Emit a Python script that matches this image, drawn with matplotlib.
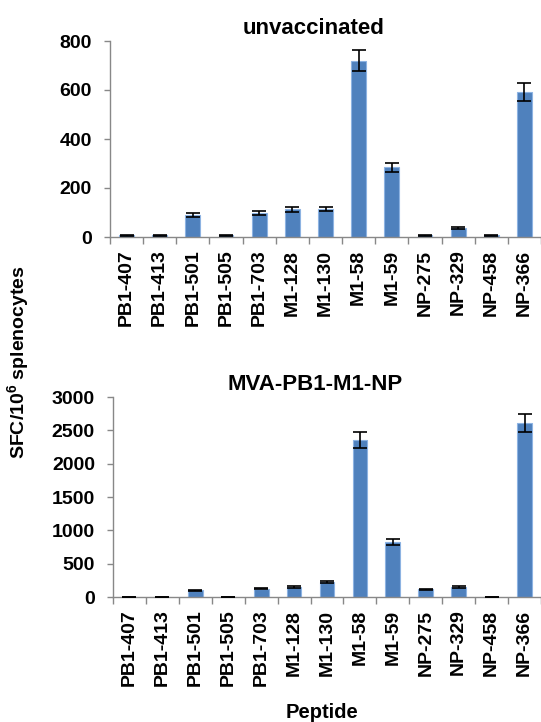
import matplotlib
matplotlib.use("Agg")
import matplotlib.pyplot as plt
import numpy as np

peptides = ["PB1-407", "PB1-413", "PB1-501", "PB1-505", "PB1-703", "M1-128", "M1-130",
            "M1-58", "M1-59", "NP-275", "NP-329", "NP-458", "NP-366"]
unvacc_vals = [8, 8, 89, 8, 98, 113, 115, 720, 284, 7, 38, 7, 593]
unvacc_err = [2, 2, 8, 2, 7, 10, 8, 44, 18, 2, 4, 2, 36]
mva_vals = [3, 3, 100, 3, 125, 150, 225, 2360, 830, 115, 145, 3, 2610]
mva_err = [2, 2, 12, 2, 12, 15, 15, 120, 45, 12, 15, 2, 140]

titles = ["unvaccinated", "MVA-PB1-M1-NP"]
yticks_top = [0, 200, 400, 600, 800]
yticks_bot = [0, 500, 1000, 1500, 2000, 2500, 3000]

plt.rcParams['font.family'] = ['Liberation Sans', 'DejaVu Sans']
plt.rcParams['font.weight'] = 'bold'
plt.rcParams['mathtext.fontset'] = 'custom'
plt.rcParams['mathtext.bf'] = 'Liberation Sans:bold'
plt.rcParams['mathtext.rm'] = 'Liberation Sans'

W, H = 541, 722
fig = plt.figure(figsize=(W / 100, H / 100), dpi=100)

bar_color = "#4F81BD"
edge_color = "#8DB3E2"
spine_color = "#888888"


def make_ax(rect, vals, errs, title, yticks, title_x):
    ax = fig.add_axes(rect)
    x = np.arange(len(peptides))
    ax.bar(x, vals, width=0.45, color=bar_color, edgecolor=edge_color, linewidth=0.8, zorder=2)
    ax.errorbar(x, vals, yerr=errs, fmt="none", ecolor="black", elinewidth=1.2,
                capsize=5, capthick=1.2, zorder=3)
    ax.set_xlim(-0.5, len(peptides) - 0.5)
    ax.set_ylim(yticks[0], yticks[-1])
    ax.set_yticks(yticks)
    ax.set_yticklabels([str(t) for t in yticks], fontsize=14, fontweight='bold')
    ax.set_xticks(x)
    ax.set_xticklabels(peptides, rotation=90, fontsize=14, fontweight='bold')
    ax.set_xticks(np.arange(len(peptides) + 1) - 0.5, minor=True)
    ax.tick_params(axis='x', which='major', length=0, pad=9)
    ax.tick_params(axis='x', which='minor', length=5, color=spine_color, width=1, direction='out')
    ax.tick_params(axis='y', which='major', length=4, color=spine_color, width=1, direction='out', pad=9)
    for s in ["top", "right"]:
        ax.spines[s].set_visible(False)
    for s in ["left", "bottom"]:
        ax.spines[s].set_color(spine_color)
        ax.spines[s].set_linewidth(1)
    ax.set_title(title, fontsize=16, fontweight='bold', pad=5, x=title_x)
    return ax


r1 = [110 / W, 1 - 237 / H, 431 / W, 196 / H]
r2 = [113 / W, 1 - 597 / H, 428 / W, 200 / H]
make_ax(r1, unvacc_vals, unvacc_err, titles[0], yticks_top, (314 - 110) / 431)
make_ax(r2, mva_vals, mva_err, titles[1], yticks_bot, (315 - 113) / 428)

fig.text(19 / W, 1 - 362 / H, "SFC/10$^{\\mathbf{6}}$ splenocytes", rotation=90, ha='center', va='center',
         fontsize=14, fontweight='bold')
fig.text(322 / W, 1 - 712 / H, "Peptide", ha='center', va='center', fontsize=14.5, fontweight='bold')

fig.savefig("out.png", dpi=100)
